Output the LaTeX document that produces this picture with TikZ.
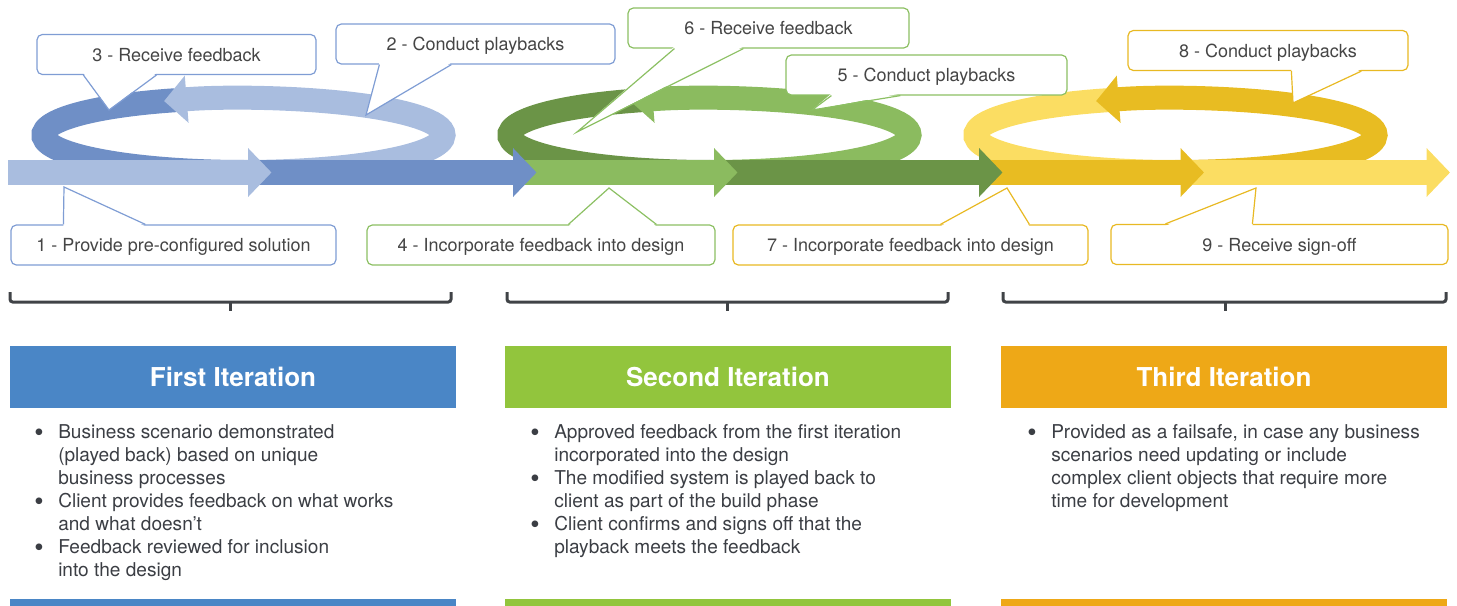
\documentclass[tikz,border=0pt]{standalone}
\usepackage{fontspec}
\setmainfont{TeX Gyre Heros}
\usetikzlibrary{arrows.meta,calc}

\definecolor{bluedark}{HTML}{6F8FC6}
\definecolor{bluelight}{HTML}{A9BDDF}
\definecolor{greendark}{HTML}{6B9447}
\definecolor{greenlight}{HTML}{8BBB5F}
\definecolor{yellowdark}{HTML}{E8BC22}
\definecolor{yellowlight}{HTML}{FBDD62}
\definecolor{blueline}{HTML}{7F9DD4}
\definecolor{greenline}{HTML}{8CC063}
\definecolor{yellowline}{HTML}{E8B923}
\definecolor{headblue}{HTML}{4A86C6}
\definecolor{headgreen}{HTML}{92C53D}
\definecolor{headorange}{HTML}{EEA817}
\definecolor{bracegray}{HTML}{404347}
\definecolor{bodygray}{HTML}{3B3E44}
\definecolor{calltext}{HTML}{454545}

\begin{document}
\begin{tikzpicture}[x=0.75pt, y=-0.75pt,
    band/.style={draw=#1, line width=18pt},
    ringhead/.style={-{Triangle[length=17pt, width=34.5pt]}},
    mainarrow/.style={draw=#1, line width=18.75pt, -{Triangle[length=17.5pt, width=35.5pt]}},
    callout/.style={draw=#1, fill=white, line width=0.9pt, rounded corners=4pt,
        minimum height=30pt, inner sep=0pt, text height=13pt, text depth=3pt,
        text=calltext, font=\fontsize{13.5pt}{16pt}\selectfont},
    pointer/.style={draw=#1, line width=0.9pt},
    brace/.style={draw=bracegray, line width=2.25pt, rounded corners=2pt},
    header/.style={fill=#1, minimum width=334.5pt, minimum height=46.5pt,
        text=white, font=\fontsize{19.5pt}{22pt}\selectfont\bfseries},
    body/.style={anchor=north west, align=left, inner sep=0pt, text=bodygray,
        font=\fontsize{14.3pt}{17.25pt}\selectfont}]

\useasboundingbox (0,0) rectangle (1457,606);

% loops
\coordinate (o1) at (243.5,135);
\coordinate (o2) at (709.5,135);
\coordinate (o3) at (1175.5,135);
\draw[band=bluedark] ([shift={(-110:200 and 37)}]o1) arc[start angle=-110, end angle=-270, x radius=200, y radius=37];
\draw[band=bluelight, ringhead] ([shift={(90:200 and 37)}]o1) arc[start angle=90, end angle=-113.4, x radius=200, y radius=37];
\draw[band=greendark] ([shift={(-110:200 and 37)}]o2) arc[start angle=-110, end angle=-270, x radius=200, y radius=37];
\draw[band=greenlight, ringhead] ([shift={(90:200 and 37)}]o2) arc[start angle=90, end angle=-113.4, x radius=200, y radius=37];
\draw[band=yellowlight] ([shift={(-110:200 and 37)}]o3) arc[start angle=-110, end angle=-270, x radius=200, y radius=37];
\draw[band=yellowdark, ringhead] ([shift={(90:200 and 37)}]o3) arc[start angle=90, end angle=-113.4, x radius=200, y radius=37];

% main arrow, last piece first
\draw[mainarrow=yellowlight] (1182,172.5) -- (1450,172.5);
\draw[mainarrow=yellowdark] (926,172.5) -- (1204,172.5);
\draw[mainarrow=greendark] (716,172.5) -- (1002.5,172.5);
\draw[mainarrow=greenlight] (506,172.5) -- (737.5,172.5);
\draw[mainarrow=bluedark] (250,172.5) -- (536.5,172.5);
\draw[mainarrow=bluelight] (8,172.5) -- (271.5,172.5);

% callouts
\node[callout=blueline, minimum width=243.75pt] (c1) at (173.5,245) {1 - Provide pre-configured solution};
\coordinate (t1) at (64,187);
\fill[white] ($(c1.north west)+(53,2)$) -- (t1) -- ($(c1.north west)+(135,2)$) -- cycle;
\draw[pointer=blueline] ($(c1.north west)+(53,0)$) -- (t1) -- ($(c1.north west)+(135,0)$);

\node[callout=blueline, minimum width=209.25pt] (c2) at (475.5,44) {2 - Conduct playbacks};
\coordinate (t2) at (366,115);
\fill[white] ($(c2.south west)+(44,-2)$) -- (t2) -- ($(c2.south west)+(116,-2)$) -- cycle;
\draw[pointer=blueline] ($(c2.south west)+(44,0)$) -- (t2) -- ($(c2.south west)+(116,0)$);

\node[callout=blueline, minimum width=209.25pt] (c3) at (176.5,54.5) {3 - Receive feedback};
\coordinate (t3) at (109,110);
\fill[white] ($(c3.south west)+(47,-2)$) -- (t3) -- ($(c3.south west)+(120,-2)$) -- cycle;
\draw[pointer=blueline] ($(c3.south west)+(47,0)$) -- (t3) -- ($(c3.south west)+(120,0)$);

\node[callout=greenline, minimum width=261pt] (c4) at (541,245) {4 - Incorporate feedback into design};
\coordinate (t4) at (609,188);
\fill[white] ($(c4.north west)+(202,2)$) -- (t4) -- ($(c4.north west)+(290,2)$) -- cycle;
\draw[pointer=greenline] ($(c4.north west)+(202,0)$) -- (t4) -- ($(c4.north west)+(290,0)$);

\node[callout=greenline, minimum width=210.75pt] (c5) at (926.5,75) {5 - Conduct playbacks};
\coordinate (t5) at (812,110);
\fill[white] ($(c5.south west)+(46,-2)$) -- (t5) -- ($(c5.south west)+(115,-2)$) -- cycle;
\draw[pointer=greenline] ($(c5.south west)+(46,0)$) -- (t5) -- ($(c5.south west)+(115,0)$);

\node[callout=greenline, minimum width=210.75pt] (c6) at (768.5,28) {6 - Receive feedback};
\coordinate (t6) at (577,132);
\fill[white] ($(c6.south west)+(47,-2)$) -- (t6) -- ($(c6.south west)+(116,-2)$) -- cycle;
\draw[pointer=greenline] ($(c6.south west)+(47,0)$) -- (t6) -- ($(c6.south west)+(116,0)$);

\node[callout=yellowline, minimum width=266.25pt] (c7) at (910.5,245) {7 - Incorporate feedback into design};
\coordinate (t7) at (1007,188);
\fill[white] ($(c7.north west)+(208,2)$) -- (t7) -- ($(c7.north west)+(297,2)$) -- cycle;
\draw[pointer=yellowline] ($(c7.north west)+(208,0)$) -- (t7) -- ($(c7.north west)+(297,0)$);

\node[callout=yellowline, minimum width=210pt] (c8) at (1268,50.5) {8 - Conduct playbacks};
\coordinate (t8) at (1293,103);
\fill[white] ($(c8.south west)+(164,-2)$) -- (t8) -- ($(c8.south west)+(234,-2)$) -- cycle;
\draw[pointer=yellowline] ($(c8.south west)+(164,0)$) -- (t8) -- ($(c8.south west)+(234,0)$);

\node[callout=yellowline, minimum width=252.75pt] (c9) at (1279.5,244.5) {9 - Receive sign-off};
\coordinate (t9) at (1256,188);
\fill[white] ($(c9.north west)+(55,2)$) -- (t9) -- ($(c9.north west)+(142,2)$) -- cycle;
\draw[pointer=yellowline] ($(c9.north west)+(55,0)$) -- (t9) -- ($(c9.north west)+(142,0)$);

% brackets
\draw[brace] (10,292) -- (10,302) -- (451,302) -- (451,292);
\draw[brace] (230,302) -- (230,311);
\draw[brace] (507,292) -- (507,302) -- (948,302) -- (948,292);
\draw[brace] (727,302) -- (727,311);
\draw[brace] (1003,292) -- (1003,302) -- (1446,302) -- (1446,292);
\draw[brace] (1225,302) -- (1225,311);

% iterations
\node[header=headblue] (h1) at (233,377) {First Iteration};
\node[header=headgreen] (h2) at (728,377) {Second Iteration};
\node[header=headorange] (h3) at (1224,377) {Third Iteration};

\node[body] (l1) at (58,424.5) {\llap{\raisebox{-2pt}{\scalebox{1.4}{\textbullet}}\hspace{11pt}}Business scenario demonstrated\\
  (played back) based on unique\\ business processes\\
  \llap{\raisebox{-2pt}{\scalebox{1.4}{\textbullet}}\hspace{11pt}}Client provides feedback on what works\\ and what doesn’t\\
  \llap{\raisebox{-2pt}{\scalebox{1.4}{\textbullet}}\hspace{11pt}}Feedback reviewed for inclusion\\ into the design};
\node[body] (l2) at (554,424.5) {\llap{\raisebox{-2pt}{\scalebox{1.4}{\textbullet}}\hspace{11pt}}Approved feedback from the first iteration\\
  incorporated into the design\\
  \llap{\raisebox{-2pt}{\scalebox{1.4}{\textbullet}}\hspace{11pt}}The modified system is played back to\\ client as part of the build phase\\
  \llap{\raisebox{-2pt}{\scalebox{1.4}{\textbullet}}\hspace{11pt}}Client confirms and signs off that the\\ playback meets the feedback};
\node[body] (l3) at (1051,424.5) {\llap{\raisebox{-2pt}{\scalebox{1.4}{\textbullet}}\hspace{11pt}}Provided as a failsafe, in case any business\\
  scenarios need updating or include\\ complex client objects that require more\\ time for development};

\fill[headblue] (10,599) rectangle (456,606);
\fill[headgreen] (505,599) rectangle (951,606);
\fill[headorange] (1001,599) rectangle (1447,606);
\end{tikzpicture}
\end{document}
